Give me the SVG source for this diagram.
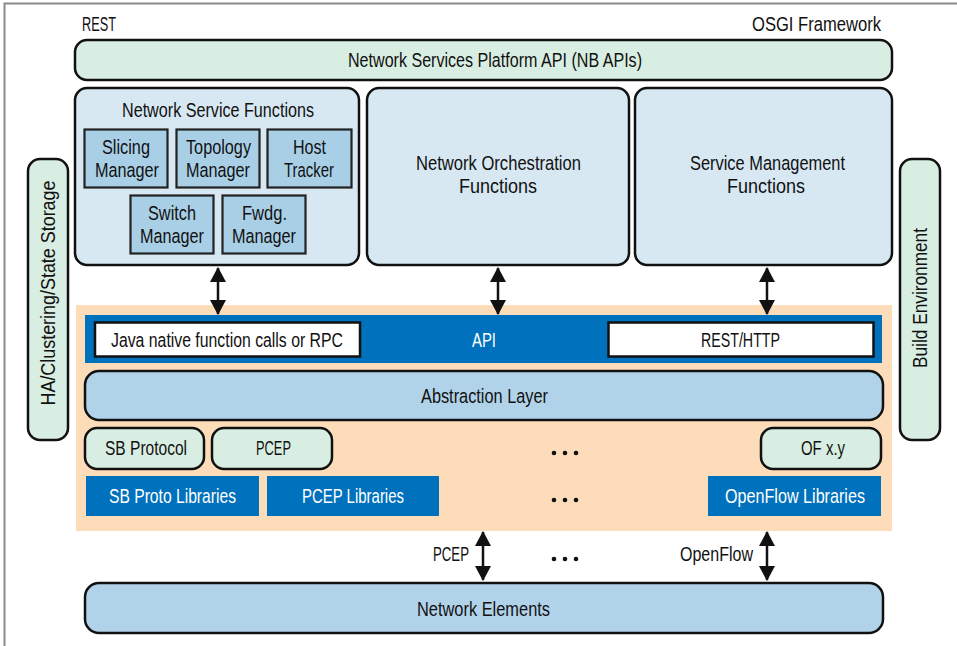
<svg xmlns="http://www.w3.org/2000/svg" width="957" height="646" viewBox="0 0 957 646">
<style>
text{font-family:"Liberation Sans Narrow","Liberation Sans",Arial,sans-serif;font-size:20.5px;fill:#111;}
.w{fill:#fff;}
.c{text-anchor:middle;}
.grn{fill:#d9eee2;stroke:#111;stroke-width:2.5;}
.fn{fill:#d7e8f3;stroke:#111;stroke-width:2.5;}
.inr{fill:#a9cfe7;stroke:#222;stroke-width:2.2;}
.abs{fill:#b1d3ea;stroke:#111;stroke-width:2.5;}
.blue{fill:#0071bc;}
.wb{fill:#fff;stroke:#111;stroke-width:2.5;}
.arr{stroke:#111;stroke-width:2.5;fill:none;marker-start:url(#ah);marker-end:url(#ah);}
</style>
<defs>
<marker id="ah" markerUnits="userSpaceOnUse" markerWidth="16" markerHeight="16" viewBox="0 0 16 16" refX="14" refY="8" orient="auto-start-reverse">
<path d="M0,0 L15,8 L0,16 Z" fill="#111"/>
</marker>
</defs>
<rect width="957" height="646" fill="#fff"/>
<path d="M4.5,646 V3.5 H957" fill="none" stroke="#8a8a8a" stroke-width="2"/>
<text x="82" y="31" textLength="34" lengthAdjust="spacingAndGlyphs">REST</text>
<text x="752" y="31" textLength="129" lengthAdjust="spacingAndGlyphs">OSGI Framework</text>
<g id="nb-api">
<rect class="grn" x="75" y="40" width="817" height="40" rx="12"/>
<text x="348" y="67" textLength="294" lengthAdjust="spacingAndGlyphs">Network Services Platform API (NB APIs)</text>
</g>
<g id="network-service-functions">
<rect class="fn" x="75" y="88" width="284" height="177" rx="12"/>
<text x="122" y="117" textLength="192" lengthAdjust="spacingAndGlyphs">Network Service Functions</text>
</g>
<g id="slicing-manager">
<rect class="inr" x="84.5" y="129.5" width="83" height="58"/>
<text x="102" y="154" textLength="48" lengthAdjust="spacingAndGlyphs">Slicing</text>
<text x="95" y="177" textLength="64" lengthAdjust="spacingAndGlyphs">Manager</text>
</g>
<g id="topology-manager">
<rect class="inr" x="176.5" y="129.5" width="83" height="58"/>
<text x="186" y="154" textLength="65" lengthAdjust="spacingAndGlyphs">Topology</text>
<text x="186" y="177" textLength="64" lengthAdjust="spacingAndGlyphs">Manager</text>
</g>
<g id="host-tracker">
<rect class="inr" x="267.5" y="129.5" width="84" height="58"/>
<text x="293" y="154" textLength="33" lengthAdjust="spacingAndGlyphs">Host</text>
<text x="284" y="177" textLength="50" lengthAdjust="spacingAndGlyphs">Tracker</text>
</g>
<g id="switch-manager">
<rect class="inr" x="130.5" y="195.5" width="83" height="58"/>
<text x="148" y="220" textLength="48" lengthAdjust="spacingAndGlyphs">Switch</text>
<text x="140" y="243" textLength="64" lengthAdjust="spacingAndGlyphs">Manager</text>
</g>
<g id="fwdg-manager">
<rect class="inr" x="222.5" y="195.5" width="83" height="58"/>
<text x="242" y="220" textLength="45" lengthAdjust="spacingAndGlyphs">Fwdg.</text>
<text x="232" y="243" textLength="64" lengthAdjust="spacingAndGlyphs">Manager</text>
</g>
<g id="network-orchestration">
<rect class="fn" x="367" y="88" width="262" height="177" rx="12"/>
<text x="416" y="170" textLength="165" lengthAdjust="spacingAndGlyphs">Network Orchestration</text>
<text x="459" y="193" textLength="78" lengthAdjust="spacingAndGlyphs">Functions</text>
</g>
<g id="service-management">
<rect class="fn" x="635" y="88" width="257" height="177" rx="12"/>
<text x="690" y="170" textLength="155" lengthAdjust="spacingAndGlyphs">Service Management</text>
<text x="727" y="193" textLength="78" lengthAdjust="spacingAndGlyphs">Functions</text>
</g>
<g id="ha-clustering">
<rect class="grn" x="28" y="159" width="40" height="281" rx="12"/>
<text class="c" transform="translate(55,293) rotate(-90)" x="0" y="0" textLength="225" lengthAdjust="spacingAndGlyphs">HA/Clustering/State Storage</text>
</g>
<g id="build-environment">
<rect class="grn" x="900" y="159" width="40" height="281" rx="12"/>
<text class="c" transform="translate(927,298) rotate(-90)" x="0" y="0" textLength="140" lengthAdjust="spacingAndGlyphs">Build Environment</text>
</g>
<g id="controller-platform">
<rect x="76" y="305" width="816" height="226" fill="#fcdcb9"/>
</g>
<g id="api">
<rect class="blue" x="85" y="315" width="797" height="48"/>
<text class="w" x="472" y="347" textLength="24" lengthAdjust="spacingAndGlyphs">API</text>
</g>
<g id="java-rpc">
<rect class="wb" x="95" y="322.5" width="265" height="34"/>
<text x="111" y="347" textLength="232" lengthAdjust="spacingAndGlyphs">Java native function calls or RPC</text>
</g>
<g id="rest-http">
<rect class="wb" x="608.5" y="322.5" width="265" height="34"/>
<text x="701" y="347" textLength="79" lengthAdjust="spacingAndGlyphs">REST/HTTP</text>
</g>
<g id="abstraction-layer">
<rect class="abs" x="85" y="371" width="798" height="49" rx="14"/>
<text x="421" y="403" textLength="127" lengthAdjust="spacingAndGlyphs">Abstraction Layer</text>
</g>
<g id="sb-protocol">
<rect class="grn" x="85" y="428" width="119" height="41" rx="12"/>
<text x="105" y="455" textLength="82" lengthAdjust="spacingAndGlyphs">SB Protocol</text>
</g>
<g id="pcep">
<rect class="grn" x="212" y="428" width="120" height="41" rx="12"/>
<text x="256" y="455" textLength="35" lengthAdjust="spacingAndGlyphs">PCEP</text>
</g>
<g id="of-xy">
<rect class="grn" x="761" y="428" width="120" height="41" rx="12"/>
<text x="801" y="455" textLength="44" lengthAdjust="spacingAndGlyphs">OF x.y</text>
</g>
<g id="sb-proto-libraries">
<rect class="blue" x="86" y="476" width="173" height="40"/>
<text class="w" x="109" y="503" textLength="127" lengthAdjust="spacingAndGlyphs">SB Proto Libraries</text>
</g>
<g id="pcep-libraries">
<rect class="blue" x="267" y="476" width="172" height="40"/>
<text class="w" x="302" y="503" textLength="102" lengthAdjust="spacingAndGlyphs">PCEP Libraries</text>
</g>
<g id="openflow-libraries">
<rect class="blue" x="708" y="476" width="173" height="40"/>
<text class="w" x="725" y="503" textLength="140" lengthAdjust="spacingAndGlyphs">OpenFlow Libraries</text>
</g>
<g id="ellipses" fill="#111">
<circle cx="554" cy="453" r="2.3"/><circle cx="565" cy="453" r="2.3"/><circle cx="576" cy="453" r="2.3"/>
<circle cx="554" cy="500" r="2.3"/><circle cx="565" cy="500" r="2.3"/><circle cx="576" cy="500" r="2.3"/>
<circle cx="554" cy="559" r="2.3"/><circle cx="565" cy="559" r="2.3"/><circle cx="576" cy="559" r="2.3"/>
</g>
<g id="network-elements">
<rect class="abs" x="85" y="583" width="798" height="50" rx="14"/>
<text x="417" y="616" textLength="133" lengthAdjust="spacingAndGlyphs">Network Elements</text>
</g>
<g id="connectors">
<line class="arr" x1="218" y1="268" x2="218" y2="314"/>
<line class="arr" x1="498" y1="268" x2="498" y2="314"/>
<line class="arr" x1="767" y1="268" x2="767" y2="314"/>
<line class="arr" x1="483" y1="532" x2="483" y2="580"/>
<line class="arr" x1="767" y1="532" x2="767" y2="580"/>
<text x="433" y="561" textLength="36" lengthAdjust="spacingAndGlyphs">PCEP</text>
<text x="680" y="561" textLength="73" lengthAdjust="spacingAndGlyphs">OpenFlow</text>
</g>
</svg>
